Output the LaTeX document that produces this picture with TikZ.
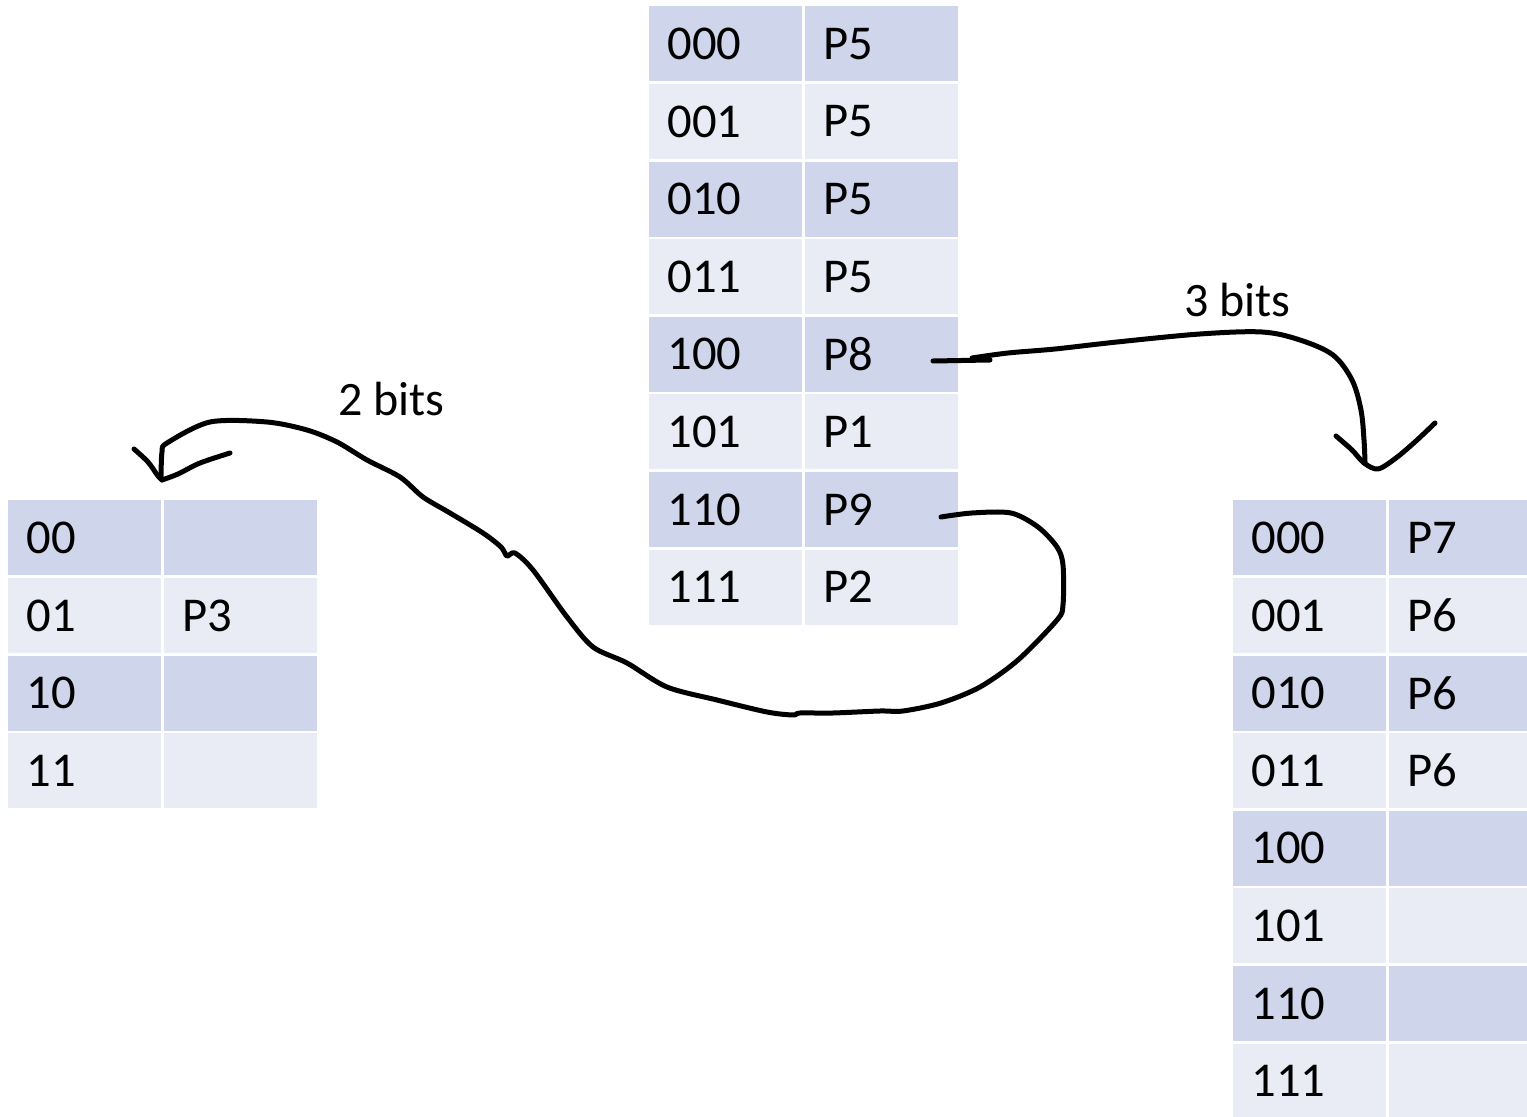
\documentclass[tikz,border=0pt]{standalone}
\usepackage{fontspec}
\setmainfont{Carlito}
\definecolor{rowdark}{HTML}{CFD5EA}
\definecolor{rowlight}{HTML}{E9EBF5}
\tikzset{
  cell/.style={draw=none, anchor=north west, minimum width=76.5pt, minimum height=37.5pt,
    text width=58.5pt, inner xsep=9pt, inner ysep=0pt, align=left,
    font=\fontsize{24.3}{29}\selectfont},
  ink/.style={line width=2.5pt, line cap=round, line join=round},
  lbl/.style={anchor=base west, inner sep=0pt, font=\fontsize{24}{29}\selectfont}
}
\begin{document}
\begin{tikzpicture}[x=0.5pt,y=-0.5pt]
\useasboundingbox (0,0) rectangle (1527,1117);
\clip (0,0) rectangle (1527,1117);
% centre table
\foreach \a/\b [count=\i] in {000/P5,001/P5,010/P5,011/P5,100/P8,101/P1,110/P9,111/P2}{
  \ifodd\i \def\rc{rowdark}\else\def\rc{rowlight}\fi
  \pgfmathsetmacro\yy{6+(\i-1)*77.6}
  \node[cell, fill=\rc] (ma\i) at (649,\yy) {\a};
  \node[cell, fill=\rc] (mb\i) at (805,\yy) {\b};
}
% left table
\foreach \a/\b [count=\i] in {00/{},01/P3,10/{},11/{}}{
  \ifodd\i \def\rc{rowdark}\else\def\rc{rowlight}\fi
  \pgfmathsetmacro\yy{500+(\i-1)*77.6}
  \node[cell, fill=\rc] (la\i) at (8,\yy) {\a};
  \node[cell, fill=\rc] (lb\i) at (164,\yy) {\b};
}
% right table
\foreach \a/\b [count=\i] in {000/P7,001/P6,010/P6,011/P6,100/{},101/{},110/{},111/{}}{
  \ifodd\i \def\rc{rowdark}\else\def\rc{rowlight}\fi
  \pgfmathsetmacro\yy{500+(\i-1)*77.6}
  \node[cell, fill=\rc] (ra\i) at (1233,\yy) {\a};
  \node[cell, fill=\rc] (rb\i) at (1389,\yy) {\b};
}
% labels
\node[lbl] (l3) at (1184,317) {3 bits};
\node[lbl] (l2) at (338,416) {2 bits};
% 3 bits ink arrow
\coordinate (s1) at (933,361);
\draw[ink] (s1) -- (990,360);
\draw[ink] plot[smooth, tension=0.55] coordinates {(972,358) (1008,353) (1055,349) (1117,342) (1200,334) (1262,332) (1300,340) (1333,355) (1352,380) (1361,410) (1364,440) (1365,462)};
\draw[ink] plot[smooth, tension=0.5] coordinates {(1336,436) (1352,450) (1364,463) (1378,469) (1396,458) (1416,441) (1435,423)};
% 2 bits ink arrow
\coordinate (s2) at (941,517);
\draw[ink] plot[smooth, tension=0.5] coordinates {(941,517) (972,513) (1011,513) (1038,527) (1057,547) (1063,565) (1063,605) (1057,620) (1018,660) (980,687) (941,703) (903,711) (880,711) (833,713) (800,713) (793,715) (767,712) (717,700) (667,687) (627,663) (593,647) (567,617) (533,570) (515,553) (507,556) (501,547) (483,533) (450,513) (423,497) (400,477) (367,460) (337,442) (307,430) (267,422) (210,422) (167,443) (162,452) (161,478)};
\draw[ink] plot[smooth, tension=0.5] coordinates {(134,449) (148,462) (158,476) (162,480)};
\draw[ink] plot[smooth, tension=0.5] coordinates {(162,480) (178,474) (200,463) (230,453)};
\end{tikzpicture}
\end{document}
